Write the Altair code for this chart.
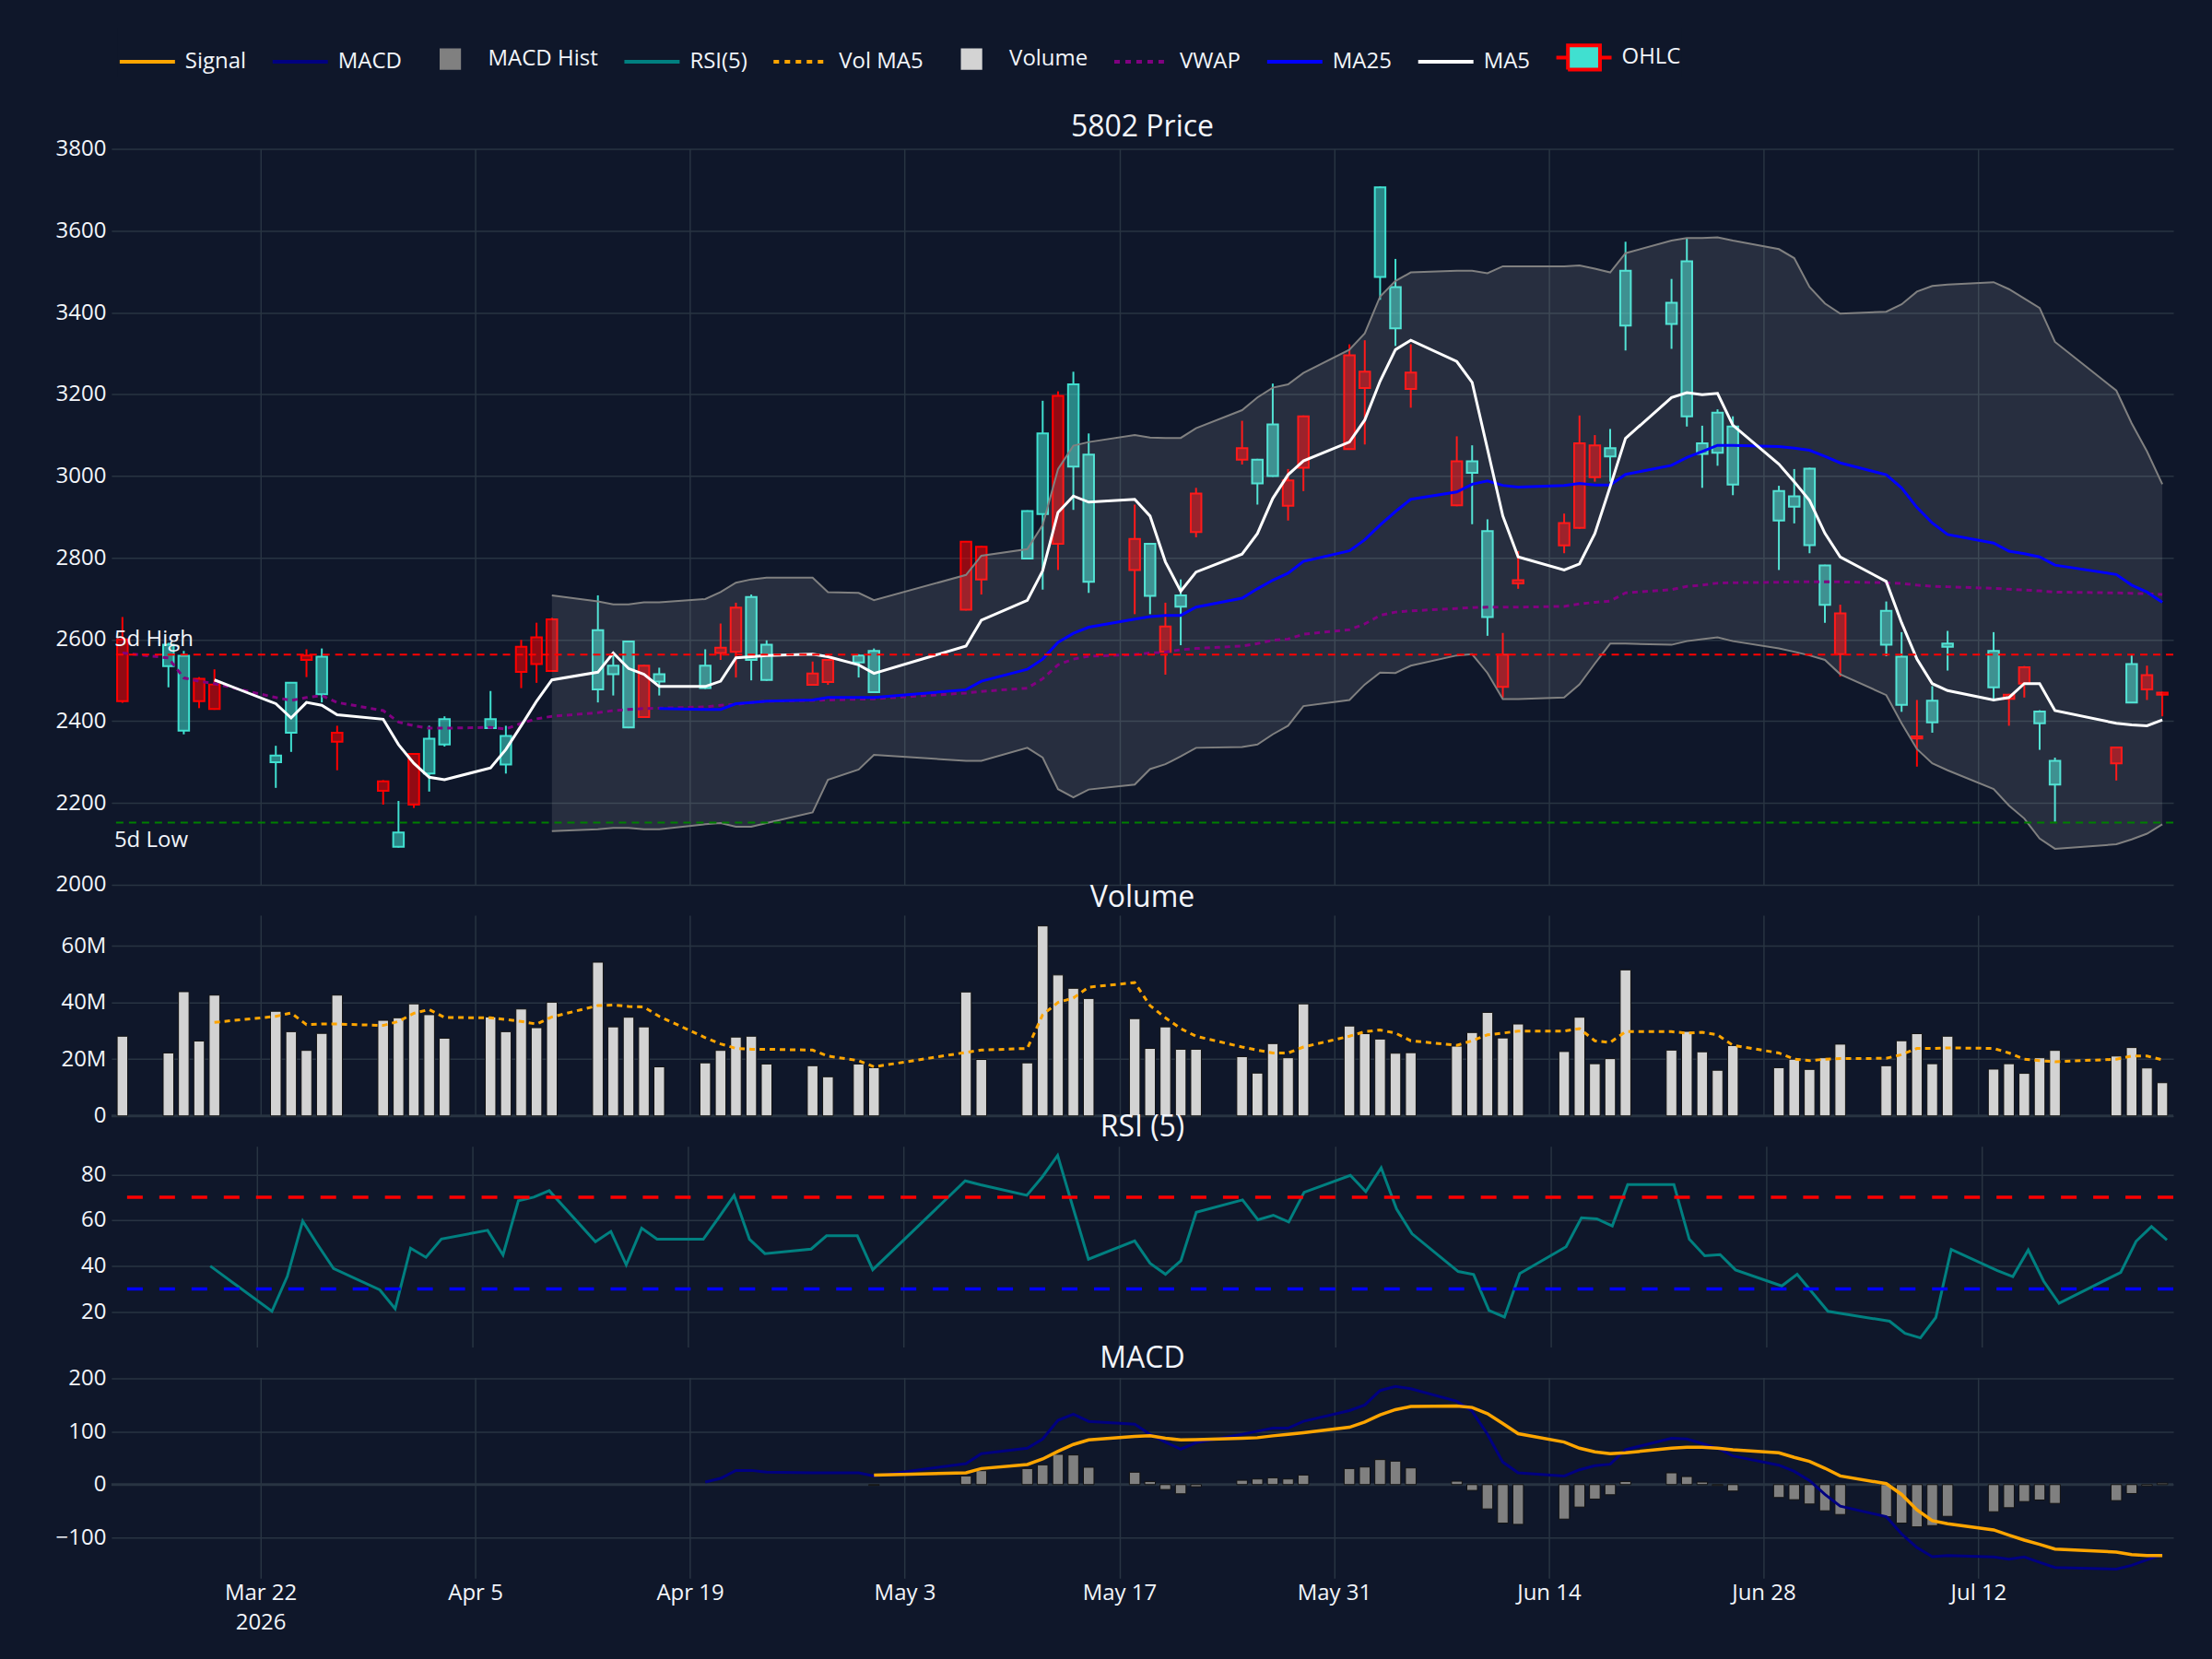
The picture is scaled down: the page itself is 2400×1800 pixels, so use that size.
import altair as alt
import pandas as pd

# ---------------- data ----------------
DATES = (
    ["2026-03-%02d" % d for d in [13, 16, 17, 18, 19, 23, 24, 25, 26, 27, 30, 31]]
    + ["2026-04-%02d" % d for d in [1, 2, 3, 6, 7, 8, 9, 10, 13, 14, 15, 16, 17, 20, 21, 22, 23, 24, 27, 28, 30]]
    + ["2026-05-%02d" % d for d in [1, 7, 8, 11, 12, 13, 14, 15, 18, 19, 20, 21, 22, 25, 26, 27, 28, 29]]
    + ["2026-06-%02d" % d for d in [1, 2, 3, 4, 5, 8, 9, 10, 11, 12, 15, 16, 17, 18, 19, 22, 23, 24, 25, 26, 29, 30]]
    + ["2026-07-%02d" % d for d in [1, 2, 3, 6, 7, 8, 9, 10, 13, 14, 15, 16, 17, 21, 22, 23, 24]]
)

OPEN = [2600, 2535, 2377, 2504, 2490, 2300, 2372, 2561, 2466, 2372, 2253, 2093,
        2320, 2272, 2343, 2383, 2294, 2582, 2605, 2649, 2478, 2515, 2385, 2536, 2497, 2481, 2580, 2678, 2550, 2501, 2517, 2550, 2544,
        2471, 2839, 2827, 2798, 2907, 3196, 3023, 2741, 2846, 2707, 2632, 2680, 2957, 3068, 2982, 3000, 2989, 3146,
        3295, 3255, 3487, 3361, 3253, 3036, 3008, 2655, 2563, 2745, 2885, 3080, 3075, 3048, 3368, 3372, 3146, 3054, 3057, 2979, 2891, 2925,
        2831, 2685, 2664, 2587, 2440, 2363, 2397, 2582, 2483, 2465, 2532, 2395, 2245, 2336, 2446, 2513, 2470]
HIGH = [2655, 2592, 2572, 2508, 2527, 2340, 2496, 2576, 2578, 2389, 2256, 2205,
        2322, 2389, 2412, 2474, 2389, 2599, 2641, 2653, 2708, 2567, 2597, 2538, 2531, 2576, 2639, 2690, 2710, 2598, 2546, 2552, 2564,
        2578, 2841, 2829, 2916, 3184, 3207, 3255, 3104, 2930, 2836, 2690, 2747, 2971, 3135, 3042, 3226, 3017, 3148,
        3322, 3332, 3708, 3531, 3322, 3097, 3075, 2894, 2616, 2816, 2908, 3148, 3100, 3115, 3573, 3482, 3582, 3123, 3163, 3146, 2976, 3017,
        3020, 2783, 2685, 2693, 2618, 2452, 2486, 2621, 2618, 2467, 2535, 2427, 2311, 2338, 2561, 2536, 2472]
LOW = [2445, 2483, 2368, 2432, 2428, 2237, 2325, 2508, 2446, 2280, 2196, 2091,
       2188, 2228, 2338, 2381, 2272, 2481, 2494, 2521, 2446, 2463, 2383, 2408, 2463, 2479, 2550, 2507, 2500, 2499, 2487, 2489, 2507,
       2469, 2671, 2710, 2796, 2722, 2770, 2917, 2714, 2662, 2662, 2514, 2586, 2850, 3028, 2930, 2998, 2891, 2963,
       3064, 3077, 3431, 3318, 3167, 2926, 2882, 2609, 2458, 2724, 2811, 2871, 2986, 2986, 3307, 3311, 3121, 2971, 3025, 2953, 2770, 2884,
       2811, 2641, 2509, 2559, 2423, 2289, 2372, 2524, 2449, 2389, 2458, 2330, 2154, 2255, 2444, 2452, 2412]
CLOSE = [2449, 2587, 2560, 2449, 2430, 2316, 2494, 2550, 2558, 2350, 2230, 2128,
         2196, 2357, 2405, 2405, 2364, 2521, 2540, 2523, 2623, 2536, 2595, 2410, 2515, 2536, 2567, 2570, 2704, 2587, 2489, 2496, 2561,
         2572, 2673, 2747, 2914, 3104, 2834, 3224, 3052, 2770, 2834, 2570, 2708, 2863, 3040, 3040, 3126, 2927, 3020,
         3066, 3215, 3706, 3462, 3213, 2928, 3036, 2865, 2484, 2737, 2830, 2873, 2997, 3068, 3502, 3424, 3525, 3080, 3155, 3121, 2963, 2950,
         3018, 2781, 2564, 2670, 2558, 2358, 2450, 2590, 2572, 2455, 2492, 2424, 2303, 2297, 2540, 2478, 2465]

VOLUME_M = [28.1, 22.2, 43.8, 26.4, 42.6, 36.9, 29.7, 23.1, 29.1, 42.6, 33.7, 34.6,
            39.5, 35.7, 27.4, 34.9, 29.7, 37.7, 31.1, 40.1, 54.2, 31.4, 34.8, 31.4, 17.3, 18.7, 23.1, 27.8, 28.1, 18.3, 17.7, 13.8, 18.3,
            17.0, 43.7, 19.9, 18.7, 67.0, 49.7, 45.0, 41.4, 34.3, 23.8, 31.4, 23.5, 23.5, 20.9, 15.1, 25.5, 20.5, 39.5,
            31.7, 29.0, 27.1, 22.1, 22.3, 24.6, 29.4, 36.5, 27.5, 32.4, 22.7, 34.8, 18.4, 20.2, 51.5, 23.2, 29.8, 22.6, 16.1, 24.8, 17.0, 20.0,
            16.4, 20.5, 25.3, 17.7, 26.5, 29.0, 18.4, 28.1, 16.5, 18.4, 15.0, 20.5, 23.1, 21.1, 24.1, 16.9, 11.7]
VOL_MA5_M = [None, None, None, None, 33.0, 35.1, 36.3, 32.2, 32.4, 32.4, 31.9, 33.3,
             36.2, 37.5, 34.7, 34.6, 34.0, 33.3, 32.4, 34.9, 38.9, 39.1, 38.6, 38.4, 35.1, 27.6, 25.4, 23.8, 23.5, 23.5, 23.2, 21.1, 19.5,
             17.3, 22.4, 23.2, 23.8, 35.7, 40.0, 41.6, 45.4, 47.0, 38.9, 34.6, 30.8, 28.1, 24.3, 23.2, 22.2, 22.2, 24.3,
             28.1, 29.7, 30.3, 29.2, 26.5, 24.9, 26.5, 28.6, 29.2, 29.9, 29.9, 30.8, 26.5, 25.9, 29.7, 29.7, 29.2, 29.5, 28.6, 24.9, 22.2, 20.0,
             19.5, 20.0, 20.2, 20.3, 21.6, 23.8, 23.8, 24.0, 23.8, 22.2, 20.0, 19.5, 19.1, 20.0, 21.1, 21.1, 19.8]

MA5 = [None, None, None, None, 2501, 2443, 2408, 2446, 2439, 2416, 2405, 2343,
       2297, 2263, 2257, 2286, 2331, 2389, 2449, 2501, 2520, 2567, 2529, 2515, 2485, 2485, 2498, 2555, 2558, 2561, 2564, 2558, 2538,
       2517, 2584, 2647, 2696, 2768, 2911, 2951, 2936, 2943, 2902, 2790, 2718, 2765, 2809, 2859, 2945, 3003, 3037,
       3083, 3137, 3232, 3309, 3332, 3280, 3229, 3066, 2902, 2802, 2770, 2785, 2859, 2974, 3092, 3192, 3204, 3199, 3202, 3124, 3029, 2986,
       2940, 2860, 2802, 2742, 2641, 2552, 2492, 2475, 2452, 2458, 2492, 2492, 2426, 2395, 2391, 2389, 2403]
MA25 = [None] * 24 + [2431, 2429, 2429, 2443, 2446, 2449, 2452, 2458, 2458,
       2458, 2477, 2498, 2527, 2552, 2593, 2615, 2630, 2650, 2656, 2659, 2659, 2679, 2701, 2724, 2745, 2762, 2791,
       2817, 2844, 2880, 2913, 2943, 2961, 2980, 2988, 2977, 2973, 2977, 2982, 2978, 2978, 3004, 3026, 3045, 3060, 3075, 3075, 3072, 3068,
       3063, 3048, 3032, 3003, 2971, 2923, 2885, 2857, 2836, 2816, 2810, 2802, 2782, 2759, 2733, 2716, 2691]
VWAP = [2567, 2555, 2506, 2498, 2492, 2458, 2451, 2458, 2463, 2446, 2426, 2398,
        2389, 2383, 2383, 2385, 2381, 2395, 2406, 2412, 2421, 2426, 2429, 2431, 2432, 2435, 2439, 2441, 2446, 2449, 2451, 2452, 2454,
        2455, 2469, 2473, 2481, 2504, 2538, 2552, 2559, 2563, 2567, 2569, 2575, 2578, 2584, 2590, 2598, 2601, 2613,
        2624, 2638, 2659, 2667, 2670, 2676, 2678, 2679, 2679, 2679, 2681, 2687, 2691, 2694, 2714, 2722, 2730, 2733, 2738, 2739, 2740, 2741,
        2741, 2741, 2741, 2739, 2737, 2733, 2730, 2729, 2725, 2723, 2721, 2719, 2716, 2714, 2713, 2712, 2710]
BB_UPPER = [None] * 19 + [2708, 2693, 2686, 2686, 2691, 2691, 2699, 2716, 2739, 2747, 2751, 2751, 2716, 2714,
            2696, 2758, 2805, 2821, 2880, 3017, 3074, 3083, 3100, 3094, 3093, 3093, 3117, 3161, 3192, 3216, 3224, 3252,
            3309, 3349, 3439, 3477, 3498, 3502, 3502, 3496, 3513, 3513, 3513, 3515, 3507, 3498, 3545, 3576, 3582, 3582, 3584, 3576, 3555, 3533,
            3462, 3422, 3397, 3402, 3420, 3451, 3465, 3468, 3474, 3457, 3434, 3411, 3328, 3209, 3129, 3060, 2980]
BB_LOWER = [None] * 19 + [2131, 2136, 2139, 2139, 2136, 2136, 2148, 2151, 2142, 2142, 2151, 2177, 2257, 2282,
            2318, 2303, 2303, 2335, 2311, 2234, 2214, 2233, 2245, 2283, 2295, 2314, 2335, 2337, 2343, 2368, 2389, 2437,
            2452, 2490, 2519, 2518, 2536, 2561, 2564, 2518, 2454, 2454, 2458, 2490, 2541, 2590, 2590, 2587, 2596, 2601, 2605, 2596, 2578, 2570,
            2561, 2550, 2515, 2464, 2395, 2332, 2297, 2280, 2234, 2194, 2162, 2113, 2088, 2099, 2111, 2125, 2148]

RSI5 = [None, None, None, None, 40.0, 20.2, 35.5, 59.6, 49.0, 38.9, 29.6, 21.3,
        47.8, 43.8, 51.8, 55.6, 44.8, 68.5, 70.1, 72.9, 50.6, 55.1, 40.5, 56.5, 51.7, 51.7, 61.1, 70.8, 51.7, 45.4, 47.4, 53.2, 53.2,
        38.4, 77.2, 75.5, 70.9, 78.9, 88.3, 65.5, 43.0, 51.0, 41.2, 36.4, 42.3, 63.5, 68.9, 60.2, 62.2, 59.2, 72.2,
        79.6, 72.5, 82.9, 64.9, 54.1, 37.6, 36.3, 20.6, 17.7, 36.7, 48.4, 61.1, 60.6, 57.5, 75.6, 75.6, 51.7, 44.5, 45.0, 38.3, 31.3, 36.4,
        28.3, 20.2, 19.1, 15.9, 10.6, 8.6, 17.5, 47.2, 38.0, 35.4, 47.0, 33.4, 23.7, 37.2, 50.8, 57.2, 51.4]

MACD = [None] * 25 + [4.7, 11.6, 26.7, 26.7, 23.3, 22.1, 22.1, 22.1,
        16.3, 39.5, 58.1, 68.6, 86.0, 121.0, 132.6, 119.2, 114.0, 94.8, 80.2, 66.9, 79.0, 94.8, 100.6, 106.4, 106.4, 119.2,
        139.5, 150.0, 177.3, 184.9, 180.8, 157.0, 138.4, 94.8, 42.4, 22.1, 16.3, 27.9, 35.5, 38.4, 65.7, 87.2, 86.0, 77.3, 68.6, 54.1, 36.6, 25.0,
        7.6, -18.6, -40.7, -60.5, -93.0, -118.6, -136.0, -133.7, -136.6, -140.7, -136.6, -146.5, -156.4, -159.3, -152.3, -141.9, -132.0]
SIGNAL = [None] * 33 + [18.0, 22.1, 30.2, 37.8, 48.3, 62.8, 75.6, 84.3, 90.7, 92.0, 87.2, 84.3, 84.9, 87.2, 88.4, 91.9, 94.8, 97.7,
          108.1, 118.0, 131.4, 141.3, 147.1, 148.3, 145.3, 133.7, 115.1, 95.9, 80.2, 68.6, 61.6, 58.1, 59.9, 68.6, 70.3, 70.3, 68.6, 65.7, 59.9, 51.2,
          43.6, 30.8, 16.3, 1.7, -18.6, -47.7, -68.0, -73.8, -85.5, -95.3, -104.7, -112.8, -121.5, -127.3, -132.0, -133.7, -133.7]
HIST = [None] * 33 + [-1.5, 16.3, 26.2, 30.2, 37.2, 57.0, 55.8, 32.6, 23.3, 5.8, -9.3, -17.4, -4.0, 8.1, 10.5, 12.8, 10.5, 18.0,
        30.2, 33.1, 47.1, 44.2, 31.4, 6.4, -11.0, -45.9, -72.7, -75.0, -65.1, -42.4, -27.3, -19.2, 5.8, 22.1, 15.1, 4.7, -1.7, -12.2, -24.4, -28.5,
        -36.6, -49.4, -56.4, -60.5, -72.7, -79.7, -77.3, -59.9, -51.2, -43.6, -32.0, -29.1, -35.5, -30.2, -16.9, -2.3, 2.9]

HIGH_5D = 2563
LOW_5D = 2152
RSI_OVERBOUGHT = 70
RSI_OVERSOLD = 30

TICK_DATES = [(3, 22), (4, 5), (4, 19), (5, 3), (5, 17), (5, 31), (6, 14), (6, 28), (7, 12)]
PRICE_TICKS = [2000, 2200, 2400, 2600, 2800, 3000, 3200, 3400, 3600, 3800]
VOL_TICKS = [0, 20e6, 40e6, 60e6]
RSI_TICKS = [20, 40, 60, 80]
MACD_TICKS = [-100, 0, 100, 200]

LEGEND_LABELS = ["Signal", "MACD", "MACD Hist", "RSI(5)", "Vol MA5", "Volume", "VWAP", "MA25", "MA5", "OHLC"]

# ---------------- styling ----------------
BG = "#0f172a"
GRID = "#283442"
FG = "#f2f5fa"
FONT = "Open Sans"
TEAL = "#40E0D0"
RED = "#FF0000"
ORANGE = "#FFA500"
NAVY = "#000080"
GRAY = "#808080"
LIGHTGRAY = "#D3D3D3"
PURPLE = "#800080"
BLUE = "#0000FF"
WHITE = "#FFFFFF"
RSI_TEAL = "#008080"

CANDLE_W = 11.5
W = 2239
H_PRICE, H_SUB = 799, 218

LEGEND_FILLS = [ORANGE, NAVY, GRAY, RSI_TEAL, ORANGE, LIGHTGRAY, PURPLE, BLUE, WHITE, TEAL]
LEGEND_STROKES = [ORANGE, NAVY, GRAY, RSI_TEAL, ORANGE, LIGHTGRAY, PURPLE, BLUE, WHITE, RED]
SQUARE_ICON = "M-0.32,-0.32H0.32V0.32H-0.32Z"
OHLC_ICON = "M-1,0H-0.58M0.58,0H1M-0.58,-0.44H0.58V0.44H-0.58Z"
LEGEND_SHAPES = ["stroke", "stroke", SQUARE_ICON, "stroke", "stroke", SQUARE_ICON, "stroke", "stroke", "stroke", OHLC_ICON]
LEGEND_DASHES = [[1, 0], [1, 0], [1, 0], [1, 0], [6, 6], [1, 0], [6, 6], [1, 0], [1, 0], [1, 0]]

df = pd.DataFrame({
    "date": DATES, "open": OPEN, "high": HIGH, "low": LOW, "close": CLOSE,
    "volume": [v * 1e6 for v in VOLUME_M],
    "vol_ma5": [None if v is None else v * 1e6 for v in VOL_MA5_M],
    "ma5": MA5, "ma25": MA25, "vwap": VWAP, "bb_upper": BB_UPPER, "bb_lower": BB_LOWER,
    "rsi": RSI5, "macd": MACD, "signal": SIGNAL, "hist": HIST,
})

XSCALE = alt.Scale(
    type="utc", nice=False,
    domain=[alt.DateTime(year=2026, month=3, date=12, hours=14, utc=True),
            alt.DateTime(year=2026, month=7, date=24, hours=10, utc=True)],
)
TICK_VALUES = [alt.DateTime(year=2026, month=m, date=d, utc=True) for m, d in TICK_DATES]
LABEL_EXPR = ("utcFormat(datum.value, '%m-%d') == '03-22' ? "
              "[utcFormat(datum.value, '%b %-d'), utcFormat(datum.value, '%Y')] : "
              "utcFormat(datum.value, '%b %-d')")


def xenc(labels=False):
    return alt.X("date:T", scale=XSCALE, title=None,
                 axis=alt.Axis(values=TICK_VALUES, grid=True, labels=labels, ticks=False, domain=False,
                               labelExpr=LABEL_EXPR, labelPadding=4, labelLineHeight=32,
                               labelOverlap=False, labelFlush=False))


def yenc(field, domain, ticks, fmt="d", expr=None):
    ax = dict(values=ticks, grid=True, ticks=False, domain=False, title=None, format=fmt, labelPadding=6)
    if expr:
        ax["labelExpr"] = expr
    return alt.Y(f"{field}:Q", scale=alt.Scale(domain=domain, nice=False, zero=False), axis=alt.Axis(**ax))


P_DOM = [2000, 3800]
V_DOM = [0, 70.8e6]
R_DOM = [4.6, 92.3]
M_DOM = [-176.5, 202]

up = "datum.close >= datum.open"
base = alt.Chart(df).transform_calculate(
    body_lo="min(datum.open, datum.close)", body_hi="max(datum.open, datum.close)")

wick_lo = base.mark_rule(strokeWidth=2).encode(
    x=xenc(), y=yenc("low", P_DOM, PRICE_TICKS), y2="body_lo:Q",
    color=alt.condition(up, alt.value(TEAL), alt.value(RED)))
wick_hi = base.mark_rule(strokeWidth=2).encode(
    x=xenc(), y=yenc("body_hi", P_DOM, PRICE_TICKS), y2="high:Q",
    color=alt.condition(up, alt.value(TEAL), alt.value(RED)))
body = base.mark_bar(size=CANDLE_W, strokeWidth=2, fillOpacity=0.55).encode(
    x=xenc(), y=yenc("open", P_DOM, PRICE_TICKS), y2="close:Q",
    fill=alt.condition(up, alt.value(TEAL), alt.value(RED)),
    stroke=alt.condition(up, alt.value(TEAL), alt.value(RED)))

band = alt.Chart(df).mark_area(color=WHITE, opacity=0.1).encode(
    x=xenc(), y=yenc("bb_upper", P_DOM, PRICE_TICKS), y2="bb_lower:Q")
band_up = alt.Chart(df).mark_line(color=GRAY, strokeWidth=2).encode(
    x=xenc(), y=yenc("bb_upper", P_DOM, PRICE_TICKS))
band_lo = alt.Chart(df).mark_line(color=GRAY, strokeWidth=2).encode(
    x=xenc(), y=yenc("bb_lower", P_DOM, PRICE_TICKS))
vwap = alt.Chart(df).mark_line(color=PURPLE, strokeWidth=3, strokeDash=[6, 5]).encode(
    x=xenc(), y=yenc("vwap", P_DOM, PRICE_TICKS))
ma25 = alt.Chart(df).mark_line(color=BLUE, strokeWidth=3).encode(
    x=xenc(), y=yenc("ma25", P_DOM, PRICE_TICKS))
ma5 = alt.Chart(df).mark_line(color=WHITE, strokeWidth=3).encode(
    x=xenc(), y=yenc("ma5", P_DOM, PRICE_TICKS))

hi_df = pd.DataFrame({"level": [HIGH_5D], "label": ["5d High"]})
lo_df = pd.DataFrame({"level": [LOW_5D], "label": ["5d Low"]})
hi_rule = alt.Chart(hi_df).mark_rule(color=RED, strokeWidth=2, strokeDash=[8, 6]).encode(
    y=yenc("level", P_DOM, PRICE_TICKS))
lo_rule = alt.Chart(lo_df).mark_rule(color="#008000", strokeWidth=2, strokeDash=[8, 6]).encode(
    y=yenc("level", P_DOM, PRICE_TICKS))
hi_text = alt.Chart(hi_df).mark_text(align="left", baseline="bottom", dx=3, dy=-4, font=FONT,
                                     fontSize=24, color=FG).encode(
    x=alt.value(0), y=yenc("level", P_DOM, PRICE_TICKS), text="label:N")
lo_text = alt.Chart(lo_df).mark_text(align="left", baseline="top", dx=3, dy=7, font=FONT,
                                     fontSize=24, color=FG).encode(
    x=alt.value(0), y=yenc("level", P_DOM, PRICE_TICKS), text="label:N")

LEG = alt.Legend(title=None, orient="none", legendX=7, legendY=-131.7, direction="horizontal",
                 columns=10, labelFontSize=24, labelColor=FG, labelFont=FONT, labelOffset=9,
                 columnPadding=20, symbolStrokeWidth=4, symbolSize=3600, labelLimit=400,
                 fillColor=BG, padding=0)
leg_df = pd.DataFrame({"series": LEGEND_LABELS})
carrier = alt.Chart(leg_df).transform_filter("false").mark_point(
    filled=True, opacity=1, strokeWidth=4, size=3600).encode(
    fill=alt.Fill("series:N", scale=alt.Scale(domain=LEGEND_LABELS, range=LEGEND_FILLS), legend=LEG),
    stroke=alt.Stroke("series:N", scale=alt.Scale(domain=LEGEND_LABELS, range=LEGEND_STROKES), legend=LEG),
    shape=alt.Shape("series:N", scale=alt.Scale(domain=LEGEND_LABELS, range=LEGEND_SHAPES), legend=LEG),
    strokeDash=alt.StrokeDash("series:N", scale=alt.Scale(domain=LEGEND_LABELS, range=LEGEND_DASHES), legend=LEG),
)


def ttl(text, dy):
    return alt.TitleParams(text=text, fontSize=32, font=FONT, color=FG, fontWeight="normal",
                           anchor="middle", baseline="alphabetic", offset=11, dy=dy)


price = alt.layer(wick_lo, wick_hi, body, band, band_up, band_lo, vwap, ma25, ma5,
                  hi_rule, lo_rule, hi_text, lo_text, carrier).properties(
    width=W, height=H_PRICE, title=ttl("5802 Price", 41.6))

zero_df = pd.DataFrame({"level": [0]})
vol_zero = alt.Chart(zero_df).mark_rule(color=GRID, strokeWidth=3).encode(
    y=yenc("level", V_DOM, VOL_TICKS))
VOL_EXPR = "datum.value == 0 ? '0' : format(datum.value / 1e6, 'd') + 'M'"
vol_bars = alt.Chart(df).mark_bar(size=CANDLE_W, color=LIGHTGRAY, stroke="#111111", strokeWidth=1).encode(
    x=xenc(), y=yenc("volume", V_DOM, VOL_TICKS, expr=VOL_EXPR))
vol_ma = alt.Chart(df).mark_line(color=ORANGE, strokeWidth=3, strokeDash=[6, 5]).encode(
    x=xenc(), y=yenc("vol_ma5", V_DOM, VOL_TICKS, expr=VOL_EXPR))
volume = alt.layer(vol_zero, vol_bars, vol_ma).properties(width=W, height=H_SUB, title=ttl("Volume", 34.1))

ob_df = pd.DataFrame({"level": [RSI_OVERBOUGHT]})
os_df = pd.DataFrame({"level": [RSI_OVERSOLD]})
rsi_line = alt.Chart(df).mark_line(color=RSI_TEAL, strokeWidth=3).encode(
    x=xenc(), y=yenc("rsi", R_DOM, RSI_TICKS))
rsi_ob = alt.Chart(ob_df).mark_rule(color=RED, strokeWidth=3.5, strokeDash=[17, 18]).encode(
    y=yenc("level", R_DOM, RSI_TICKS))
rsi_os = alt.Chart(os_df).mark_rule(color=BLUE, strokeWidth=3.5, strokeDash=[17, 18]).encode(
    y=yenc("level", R_DOM, RSI_TICKS))
rsi = alt.layer(rsi_line, rsi_ob, rsi_os).properties(width=W, height=H_SUB, title=ttl("RSI (5)", 32.1))

macd_zero = alt.Chart(zero_df).mark_rule(color=GRID, strokeWidth=3).encode(
    y=yenc("level", M_DOM, MACD_TICKS))
hist = alt.Chart(df).mark_bar(size=CANDLE_W, color=GRAY, stroke="#111111", strokeWidth=1).encode(
    x=xenc(True), y=yenc("hist", M_DOM, MACD_TICKS))
macd_line = alt.Chart(df).mark_line(color=NAVY, strokeWidth=3).encode(
    x=xenc(True), y=yenc("macd", M_DOM, MACD_TICKS))
sig_line = alt.Chart(df).mark_line(color=ORANGE, strokeWidth=3.5).encode(
    x=xenc(True), y=yenc("signal", M_DOM, MACD_TICKS))
macd = alt.layer(macd_zero, hist, macd_line, sig_line).properties(width=W, height=H_SUB, title=ttl("MACD", 42.9))

chart = alt.vconcat(price, volume, rsi, macd, spacing=33, bounds="flush").properties(
    background=BG, padding={"left": 60, "top": 29, "right": 40, "bottom": 27}
).configure_view(stroke=None).configure_axis(
    gridColor=GRID, gridWidth=1.5, labelColor=FG, labelFont=FONT, labelFontSize=24,
    domain=False, ticks=False
).configure_legend(
    labelFontSize=24, labelColor=FG, labelFont=FONT, symbolStrokeWidth=4, symbolSize=3600
)

chart.save("out.html", embed_options={"renderer": "svg", "actions": False})
